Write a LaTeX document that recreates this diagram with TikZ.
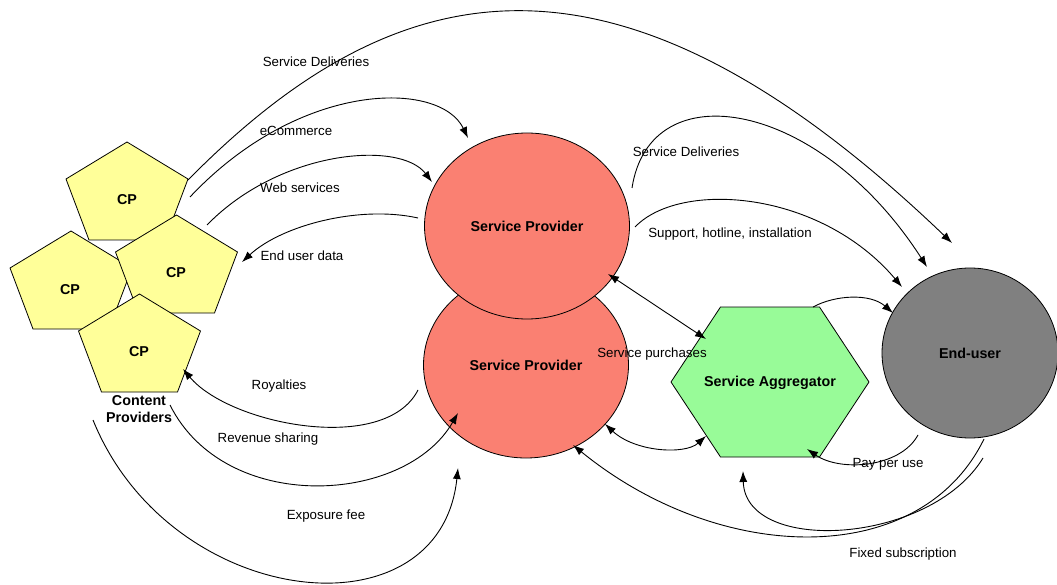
\documentclass[tikz,border=0pt]{standalone}
\usepackage{fontspec}
\setmainfont{Liberation Sans}
\usetikzlibrary{shapes.geometric,arrows.meta,calc}
\definecolor{cpfill}{HTML}{FFFF99}
\definecolor{spfill}{HTML}{FA8072}
\definecolor{safill}{HTML}{98FB98}
\definecolor{eufill}{HTML}{808080}
\tikzset{
  lbl/.style={font=\fontsize{13.3}{15}\selectfont, inner sep=0pt},
  blbl/.style={font=\fontsize{14.3}{16}\selectfont\bfseries, inner sep=0pt, align=center},
  shapeline/.style={draw=black, line width=0.8pt},
  spshape/.style={shapeline, ellipse, fill=spfill, minimum width=205pt, minimum height=186pt, inner sep=0pt,
    font=\fontsize{14.3}{16}\selectfont\bfseries},
  eushape/.style={shapeline, ellipse, fill=eufill, minimum width=176pt, minimum height=170pt, inner sep=0pt,
    font=\fontsize{14.3}{16}\selectfont\bfseries},
  tip/.tip={Latex[length=11pt,width=8pt]},
  conn/.style={draw=black, line width=0.9pt, -tip},
  dconn/.style={draw=black, line width=0.9pt, tip-tip},
  pics/pent/.style={code={\draw[shapeline, fill=cpfill] (0,-54) -- (61,-17) -- (38,44) -- (-38,44) -- (-61,-17) -- cycle;}},
  pics/hexa/.style={code={\draw[shapeline, fill=safill] (-49.5,-75) -- (49.5,-75) -- (99,0) -- (49.5,75) -- (-49.5,75) -- (-99,0) -- cycle;}}
}
\begin{document}
\begin{tikzpicture}[x=1pt,y=-1pt]
\useasboundingbox[fill=white] (0,0) rectangle (1057,585);

% Content providers
\pic at (127,196) {pent};
\node[blbl] (cpA) at (127,200) {CP};
\pic at (71,285) {pent};
\node[blbl] (cpB) at (70,290) {CP};
\pic at (176.5,269) {pent};
\node[blbl] (cpC) at (176,273) {CP};
\pic at (139.5,348) {pent};
\node[blbl] (cpD) at (139,352) {CP};
\node[blbl, font=\fontsize{14.3}{17}\selectfont\bfseries] (cpt) at (139,409) {Content\\Providers};

% Service providers
\node[spshape] (sp2) at (526,365) {Service Provider};
\node[spshape] (sp1) at (527,226) {Service Provider};

% Aggregator
\pic at (770,382) {hexa};
\node[blbl] (sa) at (770,383) {Service Aggregator};

% End user
\node[eushape] (eu) at (970,353) {End-user};

% Connectors
\draw[conn] ($(cpA)+(61,-20)$) .. controls (400,-35) and (620,-75) .. ($(eu)+(-18,-110)$);
\draw[conn] ($(cpA)+(63,-3)$) .. controls (300,80) and (440,80) .. ($(sp1)+(-59,-88)$);
\draw[conn] ($(cpC)+(31,-48)$) .. controls (280,150) and (400,140) .. ($(sp1)+(-95,-44)$);
\draw[conn] ($(sp1)+(-109,-8)$) .. controls (360,205) and (282,225) .. ($(cpC)+(66,-11)$);
\draw[conn] ($(sp1)+(105,-38)$) .. controls (650,70) and (820,100) .. ($(eu)+(-43,-86)$);
\draw[conn] ($(sp1)+(108,1)$) .. controls (680,180) and (820,190) .. ($(eu)+(-68,-66)$);
\draw[dconn] ($(sp1)+(81,48)$) -- ($(sa)+(-64,-44)$);
\draw[dconn] ($(sp2)+(79,59)$) .. controls (635,452) and (685,455) .. ($(sa)+(-64,53)$);
\draw[conn] ($(sa)+(43,-76)$) .. controls (835,295) and (870,293) .. ($(eu)+(-77,-40)$);
\draw[conn] ($(eu)+(-52,82)$) .. controls (900,468) and (840,472) .. ($(sa)+(37,66)$);
\draw[conn] ($(eu)+(13,105)$) .. controls (930,545) and (745,555) .. ($(sa)+(-27,88)$);
\draw[conn] ($(eu)+(14,86)$) .. controls (920,570) and (720,565) .. ($(sp2)+(47,80)$);
\draw[conn] ($(sp2)+(-108,25)$) .. controls (385,455) and (230,425) .. ($(cpD)+(44,17)$);
\draw[conn] ($(cpt)+(31,-4)$) .. controls (225,515) and (405,505) .. ($(sp2)+(-68,48)$);
\draw[conn] ($(cpt)+(-46,11)$) .. controls (170,610) and (440,640) .. ($(sp2)+(-68,103)$);

% Labels
\node[lbl] (l1) at (316,62) {Service Deliveries};
\node[lbl] (l2) at (296,131) {eCommerce};
\node[lbl] (l3) at (300,188) {Web services};
\node[lbl] (l4) at (302,256) {End user data};
\node[lbl] (l5) at (686,152) {Service Deliveries};
\node[lbl] (l6) at (730,234) {Support, hotline, installation};
\node[lbl] (l7) at (652,354) {Service purchases};
\node[lbl] (l8) at (279,386) {Royalties};
\node[lbl] (l9) at (268,439) {Revenue sharing};
\node[lbl] (l10) at (326,516) {Exposure fee};
\node[lbl] (l11) at (888,464) {Pay per use};
\node[lbl] (l12) at (903,554) {Fixed subscription};
\end{tikzpicture}
\end{document}
